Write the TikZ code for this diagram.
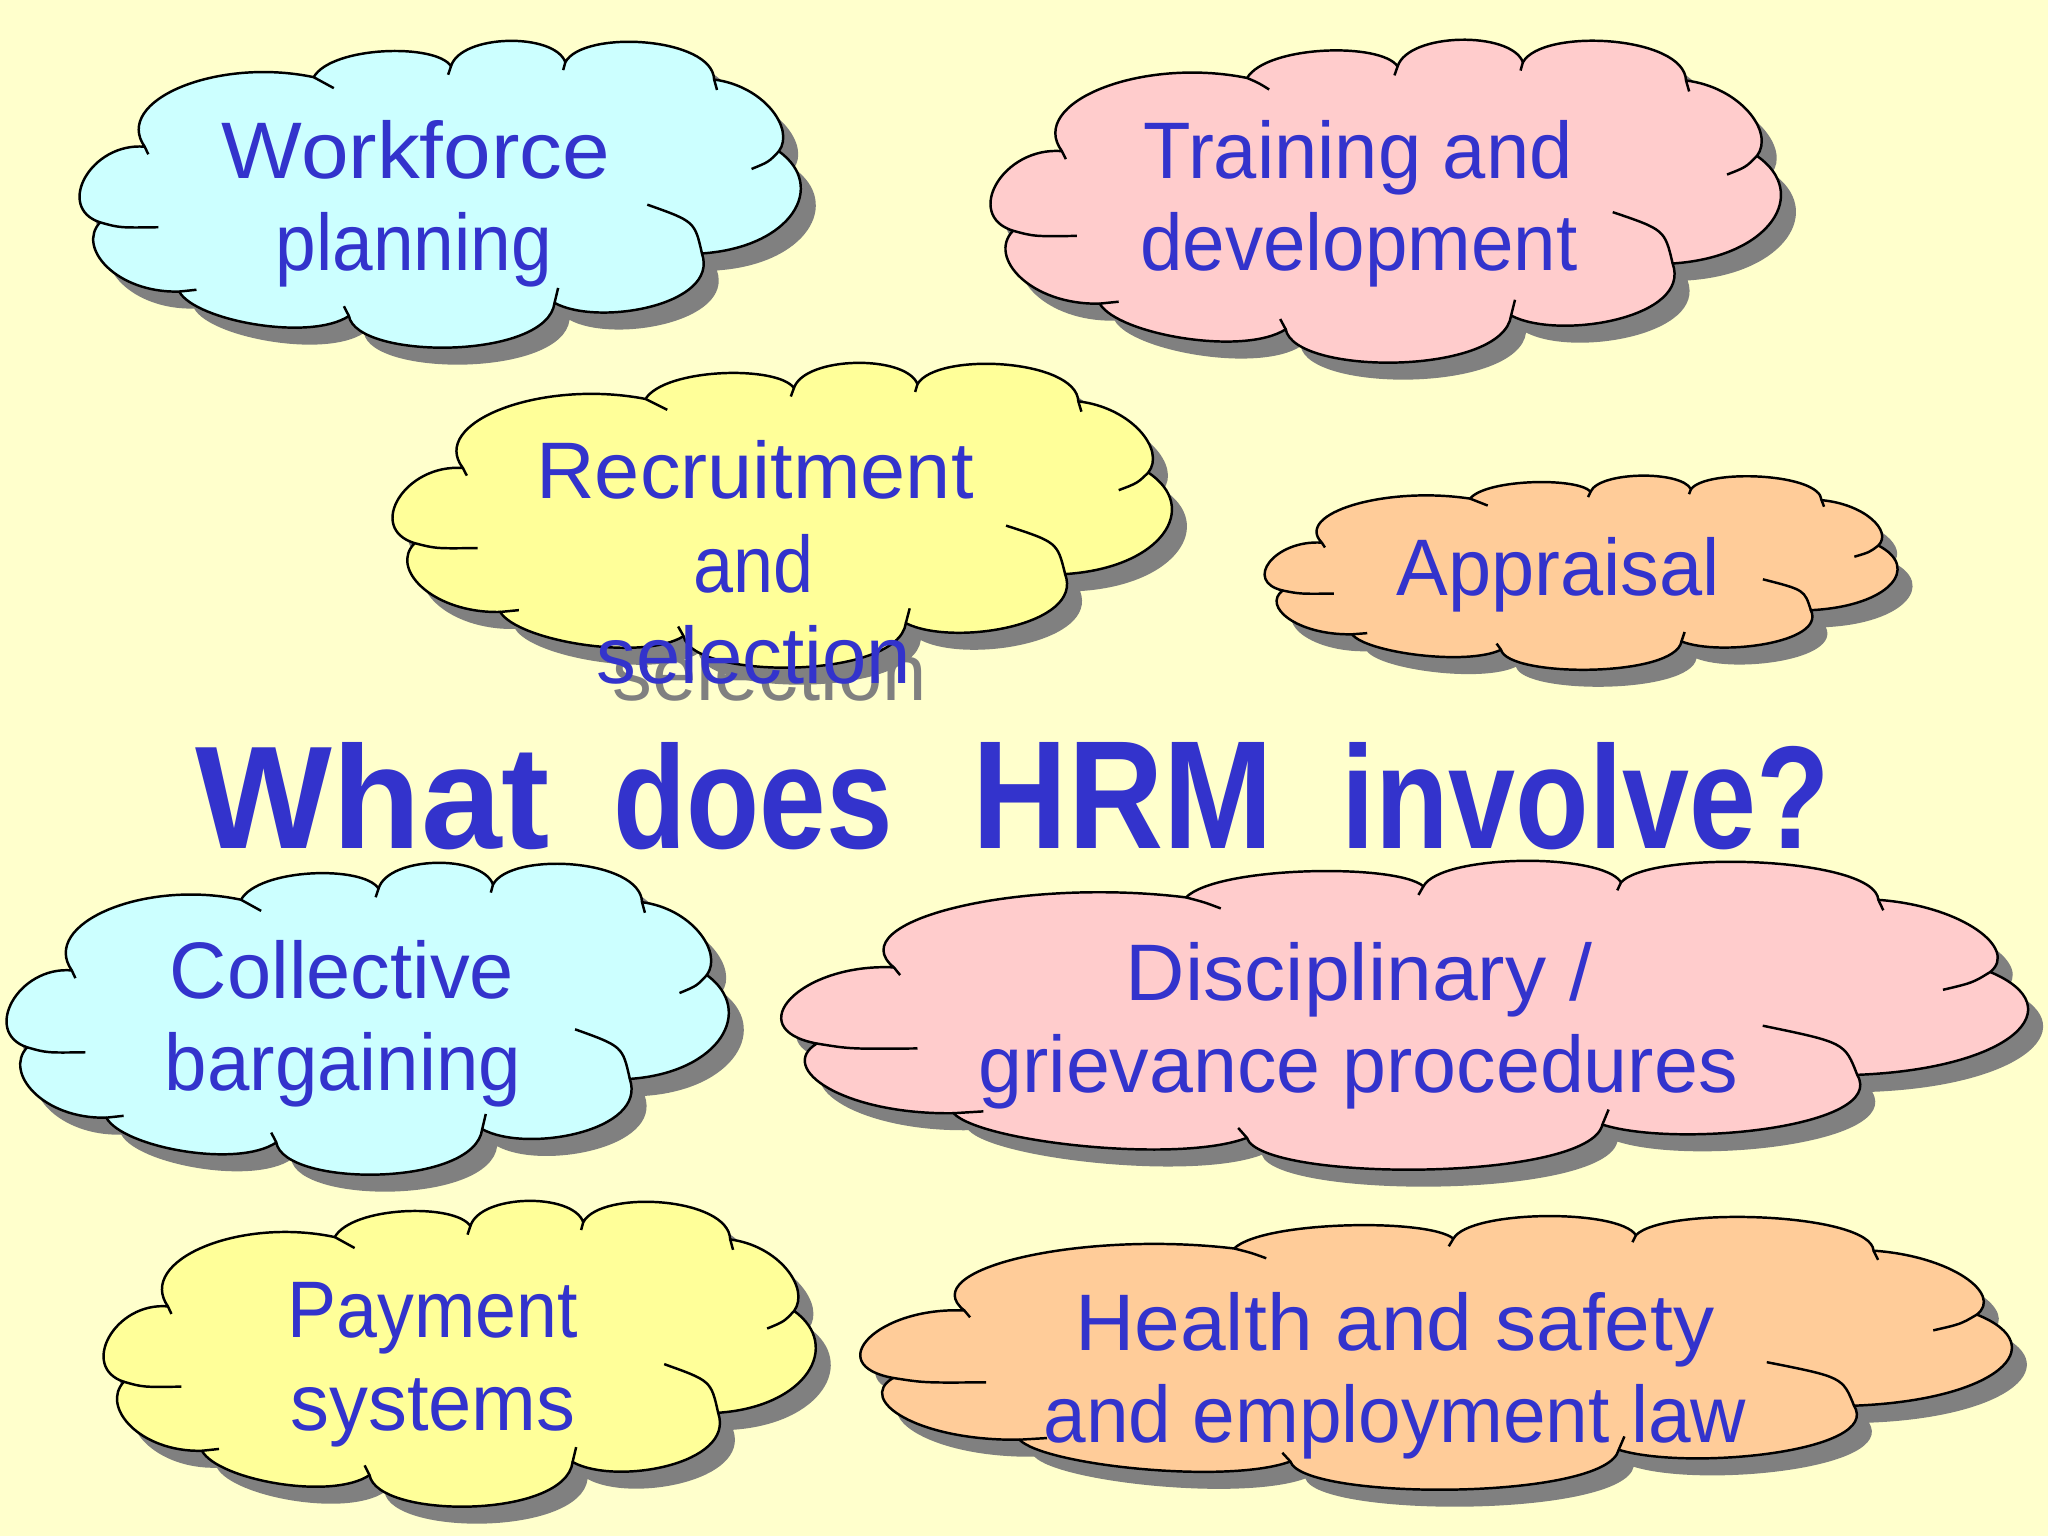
\documentclass[tikz,border=0pt]{standalone}
\usepackage{fontspec}
\setmainfont{Liberation Sans}
\usepackage{graphicx}
\definecolor{bgyellow}{HTML}{FFFFCC}
\definecolor{txtblue}{HTML}{3333CC}
\definecolor{shadowgray}{HTML}{808080}
\definecolor{cloudcyan}{HTML}{CCFFFF}
\definecolor{cloudpink}{HTML}{FFCCCC}
\definecolor{cloudyellow}{HTML}{FFFF99}
\definecolor{cloudorange}{HTML}{FFCC99}
\newcommand\cloudfont{\fontsize{22.8pt}{27pt}\selectfont}
\newcommand\titlefont{\fontsize{40pt}{48pt}\selectfont\bfseries}
\newcommand\cloudpath{(9,34) .. controls (1.5,32.5) and (-3.5,54) .. (2.8,58.8)
 .. controls (-0.5,67) and (5,82) .. (13.8,81.5)
 .. controls (16,91) and (32,98) .. (37.4,89.5)
 .. controls (38.5,104) and (65,104) .. (66,85.2)
 .. controls (72,93) and (89,86) .. (86.5,69)
 .. controls (99,67) and (104,47) .. (97.2,35.5)
 .. controls (99.5,28) and (95,14) .. (88.2,12)
 .. controls (88,-2) and (70,-4.5) .. (67.5,6.3)
 .. controls (66,-3.5) and (53,-3) .. (51.6,7.6)
 .. controls (49.5,0) and (35,1) .. (32.5,11.2)
 .. controls (19,4.5) and (4.5,19) .. (9,34) -- cycle}
\newcommand\cloudstrokes{(32.5,11.2) .. controls (34,12.8) .. (35.3,14.8)
 (51.6,7.6) -- (51.2,10.4)
 (67.5,6.3) -- (67.2,8.9)
 (88.2,12) -- (88.6,15.4)
 (97.2,35.5) .. controls (95.8,39) .. (93.4,41.3)
 (86.5,69) .. controls (85.5,58.5) .. (78.9,53)
 (66,85.2) .. controls (66.3,82.5) .. (66.5,80.3)
 (37.4,89.5) .. controls (37,87.8) .. (36.7,86.3)
 (13.8,81.5) .. controls (15,81.3) .. (16.2,80.9)
 (2.8,58.8) .. controls (5.5,60.6) .. (10.9,60.4)
 (9,34) -- (9.5,36.5)}
% #1 x0, #2 y0, #3 width, #4 height, #5 fill colour
\newcommand\hrmcloud[5]{%
  \begin{scope}[shift={(#1+15,#2+17)},xscale=#3/100,yscale=#4/100]
    \fill[shadowgray] \cloudpath;
  \end{scope}
  \begin{scope}[shift={(#1,#2)},xscale=#3/100,yscale=#4/100]
    \filldraw[cloudline,fill=#5] \cloudpath;
    \draw[cloudline] \cloudstrokes;
  \end{scope}}
\tikzset{
  cloudline/.style={line width=0.7pt,draw=black,line join=round},
  txt/.style={anchor=base,inner sep=0pt,outer sep=0pt,text=txtblue,font=\cloudfont},
  txtshadow/.style={txt,text=shadowgray},
  ttl/.style={anchor=base,inner sep=0pt,outer sep=0pt,text=txtblue,font=\titlefont}
}
\begin{document}
\begin{tikzpicture}[x=0.01cm,y=-0.01cm]
\useasboundingbox (0,0) rectangle (2048,1536);
\fill[bgyellow] (0,0) rectangle (2048,1536);

% text shadow of the overflowing line
\node[txtshadow] (t3cs) at (770,700) {\resizebox{3.14cm}{\height}{selection}};

% clouds
\hrmcloud{80}{43}{719}{305}{cloudcyan}
\hrmcloud{991}{42}{788}{321}{cloudpink}
\hrmcloud{393}{365}{777}{303}{cloudyellow}
\hrmcloud{1265}{477}{631}{193}{cloudorange}
\hrmcloud{7}{865}{720}{310}{cloudcyan}
\hrmcloud{782}{863}{1243}{307}{cloudpink}
\hrmcloud{104}{1203}{710}{304}{cloudyellow}
\hrmcloud{861}{1218}{1148}{272}{cloudorange}

% cloud texts
\node[txt] (t1a) at (416,178) {\resizebox{3.88cm}{\height}{Workforce}};
\node[txt] (t1b) at (414,270) {\resizebox{2.76cm}{\height}{planning}};

\node[txt] (t2a) at (1358,178) {\resizebox{4.29cm}{\height}{Training and}};
\node[txt] (t2b) at (1359,270) {\resizebox{4.37cm}{\height}{development}};

\node[txt] (t3a) at (755,498) {\resizebox{4.37cm}{\height}{Recruitment}};
\node[txt] (t3b) at (754,592) {\resizebox{1.20cm}{\height}{and}};
\node[txt] (t3c) at (754,683) {\resizebox{3.14cm}{\height}{selection}};

\node[txt] (t4a) at (1558,595) {\resizebox{3.23cm}{\height}{Appraisal}};

\node[txt] (t5a) at (342,998) {\resizebox{3.44cm}{\height}{Collective}};
\node[txt] (t5b) at (343,1090) {\resizebox{3.56cm}{\height}{bargaining}};

\node[txt] (t6a) at (1359,1000) {\resizebox{4.66cm}{\height}{Disciplinary /}};
\node[txt] (t6b) at (1358,1092) {\resizebox{7.59cm}{\height}{grievance procedures}};

\node[txt] (t7a) at (433,1337) {\resizebox{2.90cm}{\height}{Payment}};
\node[txt] (t7b) at (433,1430) {\resizebox{2.85cm}{\height}{systems}};

\node[txt] (t8a) at (1395,1350) {\resizebox{6.39cm}{\height}{Health and safety}};
\node[txt] (t8b) at (1395,1442) {\resizebox{7.02cm}{\height}{and employment law}};

% title
\node[ttl] (h1) at (373,848) {\resizebox{3.54cm}{1.06cm}{What}};
\node[ttl] (h2) at (753,848) {\resizebox{2.79cm}{1.06cm}{does}};
\node[ttl] (h3) at (1123,848) {\resizebox{3.00cm}{1.06cm}{HRM}};
\node[ttl] (h4) at (1586,848) {\resizebox{4.88cm}{1.06cm}{involve?}};
\end{tikzpicture}
\end{document}
